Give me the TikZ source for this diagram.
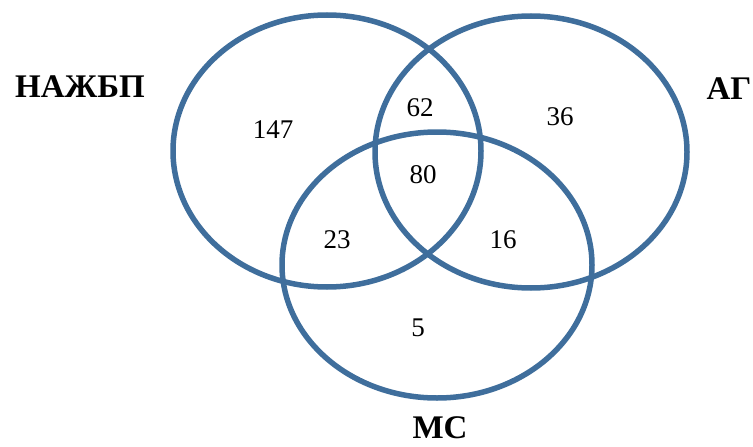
\documentclass[tikz,border=0pt]{standalone}
\usepackage{fontspec}
\setmainfont{Liberation Serif}
\usetikzlibrary{positioning}
\definecolor{cblue}{HTML}{3F6E9C}
\tikzset{
  ring/.style={draw=cblue, line width=5.5pt},
  count/.style={font=\fontsize{27}{27}\selectfont},
  setname/.style={font=\fontsize{33}{33}\selectfont\bfseries},
}
\begin{document}
\begin{tikzpicture}[x=1pt, y=-1pt]
  \useasboundingbox (0,0) rectangle (753,447);
  % the three sets
  \coordinate (nafld) at (327,151);
  \coordinate (ag) at (531,152);
  \coordinate (ms) at (437,265);
  \draw[ring] (nafld) ellipse [x radius=154pt, y radius=136pt];
  \draw[ring] (ag) ellipse [x radius=156pt, y radius=136pt];
  \draw[ring] (ms) ellipse [x radius=155pt, y radius=133pt];
  % set names
  \node[setname] (lnafld) at (80,87) {НАЖБП};
  \node[setname] (lag) at (729,89) {АГ};
  \node[setname, inner sep=1pt] (lms) at (440,428) {МС};
  % counts
  \node[count] (n147) at (273,130) {147};
  \node[count] (n62) at (420,108) {62};
  \node[count] (n36) at (560,117) {36};
  \node[count] (n80) at (423,175) {80};
  \node[count] (n23) at (337,240) {23};
  \node[count] (n16) at (503,240) {16};
  \node[count] (n5) at (418,328) {5};
\end{tikzpicture}
\end{document}
